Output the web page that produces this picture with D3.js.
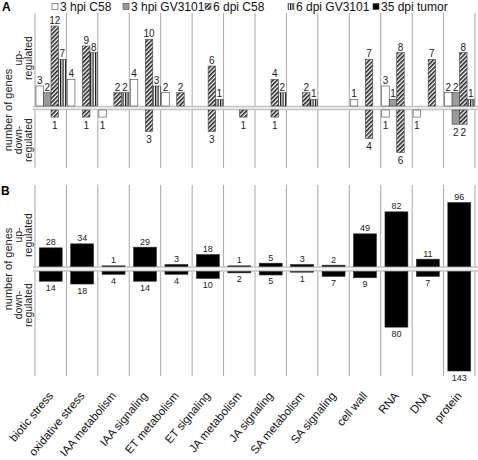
<!DOCTYPE html>
<html><head><meta charset="utf-8">
<script src="https://cdn.jsdelivr.net/npm/d3@7"></script>
<style>body{margin:0;background:#fff}</style>
</head><body><svg id="c" width="478" height="460" font-family="'Liberation Sans', Arial, Helvetica, sans-serif"></svg>
<script>
const categories = ["biotic stress","oxidative stress","IAA metabolism","IAA signaling","ET metabolism","ET signaling","JA metabolism","JA signaling","SA metabolism","SA signaling","cell wall","RNA","DNA","protein"];
const seriesNames = ["3 hpi C58","3 hpi GV3101","6 dpi C58","6 dpi GV3101","35 dpi tumor"];
// Panel A, up-regulated
const upHpiC58   = [3,4,0,4,2,0,0,0,0,0,1,3,0,2];
const upHpiGV    = [2,0,0,0,0,0,0,0,0,0,0,1,0,2];
const upDpiC58   = [12,9,2,10,2,6,0,4,2,0,7,8,7,8];
const upDpiGV    = [7,8,2,3,0,1,0,2,1,0,0,0,0,1];
// Panel A, down-regulated
const downHpiC58 = [0,0,1,0,0,0,0,0,0,0,0,1,1,0];
const downHpiGV  = [0,0,0,0,0,0,0,0,0,0,0,0,0,2];
const downDpiC58 = [1,1,0,3,0,3,1,1,0,0,4,6,0,2];
const downDpiGV  = [0,0,0,0,0,0,0,0,0,0,0,0,0,0];
// Panel B (35 dpi tumor)
const upTumor    = [28,34,1,29,3,18,1,5,3,2,49,82,11,96];
const downTumor  = [14,18,4,14,4,10,2,5,1,7,9,80,7,143];

const FONT = "'Liberation Sans', Arial, Helvetica, sans-serif";
const svg = d3.select("#c");
const defs = svg.append("defs");
const hatch = defs.append("pattern").attr("id","hatch").attr("patternUnits","userSpaceOnUse")
  .attr("width",3).attr("height",3).attr("patternTransform","rotate(45)");
hatch.append("rect").attr("width",3).attr("height",3).attr("fill","#fff");
hatch.append("rect").attr("width",1.6).attr("height",3).attr("fill","#222");
const vert = defs.append("pattern").attr("id","vert").attr("patternUnits","userSpaceOnUse")
  .attr("width",2.5).attr("height",4);
vert.append("rect").attr("width",2.5).attr("height",4).attr("fill","#fff");
vert.append("rect").attr("width",1.2).attr("height",4).attr("fill","#111");

const fills = ["#fff","#9a9a9a","url(#hatch)","url(#vert)","#000"];

const x = d3.scaleBand().domain(categories).range([35,475]);
const xs = d3.scaleBand().domain(seriesNames.slice(0,4)).range([1,31]);

const yUpA = d3.scaleLinear().domain([0,12]).range([106,26]);
const yDnA = d3.scaleLinear().domain([0,6]).range([110,152.6]);
const yUpB = d3.scaleLinear().domain([0,96]).range([266.5,202.5]);
const yDnB = d3.scaleLinear().domain([0,143]).range([271.5,371]);

function txt(sel){ return sel.append("text").attr("font-family",FONT); }

const grid = x.domain().map(d=>x(d)).concat([475]);
const g = svg.append("g");
grid.forEach(v=>{
  g.append("line").attr("x1",v).attr("x2",v).attr("y1",13).attr("y2",168).attr("stroke","#a8a8a8").attr("stroke-width",1);
  g.append("line").attr("x1",v).attr("x2",v).attr("y1",185).attr("y2",376).attr("stroke","#a8a8a8").attr("stroke-width",1);
});
[[yUpA(0),yDnA(0)],[yUpB(0),yDnB(0)]].forEach(([a,b])=>{
  svg.append("rect").attr("x",33).attr("y",a).attr("width",445).attr("height",b-a).attr("fill","#f4f4f4");
  svg.append("line").attr("x1",33).attr("x2",478).attr("y1",a+0.5).attr("y2",a+0.5).attr("stroke","#c4c4c4").attr("stroke-width",1.3);
  svg.append("line").attr("x1",33).attr("x2",478).attr("y1",b-0.5).attr("y2",b-0.5).attr("stroke","#c4c4c4").attr("stroke-width",1.3);
});

const upA = [upHpiC58,upHpiGV,upDpiC58,upDpiGV];
const dnA = [downHpiC58,downHpiGV,downDpiC58,downDpiGV];
const ga = svg.append("g");
seriesNames.slice(0,4).forEach((s,si)=>{
  categories.forEach((c,ci)=>{
    const bx = x(c)+xs(s), bw = xs.bandwidth();
    const u = upA[si][ci], dn = dnA[si][ci];
    if(u>0){
      ga.append("rect").attr("x",bx).attr("y",yUpA(u)).attr("width",bw).attr("height",yUpA(0)-yUpA(u))
        .attr("fill",fills[si]).attr("stroke","#444").attr("stroke-width",0.6);
      txt(ga).attr("x",bx+bw/2).attr("y",yUpA(u)-2).attr("text-anchor","middle")
        .attr("font-size",10).attr("fill","#222").text(u);
    }
    if(dn>0){
      ga.append("rect").attr("x",bx).attr("y",yDnA(0)).attr("width",bw).attr("height",yDnA(dn)-yDnA(0))
        .attr("fill",fills[si]).attr("stroke","#444").attr("stroke-width",0.6);
      txt(ga).attr("x",bx+bw/2).attr("y",yDnA(dn)+11.5).attr("text-anchor","middle")
        .attr("font-size",10).attr("fill","#222").text(dn);
    }
  });
});

const gb = svg.append("g");
const bwB = x.bandwidth()*0.73;
categories.forEach((c,ci)=>{
  const cx = x(c)+x.bandwidth()/2;
  const u = upTumor[ci], dn = downTumor[ci];
  gb.append("rect").attr("x",cx-bwB/2).attr("y",yUpB(u)).attr("width",bwB).attr("height",yUpB(0)-yUpB(u))
    .attr("fill","#000").attr("stroke","#333").attr("stroke-width",0.6);
  txt(gb).attr("x",cx).attr("y",yUpB(u)-2.5).attr("text-anchor","middle").attr("font-size",9).attr("fill","#222").text(u);
  gb.append("rect").attr("x",cx-bwB/2).attr("y",yDnB(0)).attr("width",bwB).attr("height",yDnB(dn)-yDnB(0))
    .attr("fill","#000").attr("stroke","#333").attr("stroke-width",0.6);
  txt(gb).attr("x",cx).attr("y",yDnB(dn)+9.5).attr("text-anchor","middle").attr("font-size",9).attr("fill","#222").text(dn);
});

// x labels, rotated -50 degrees
categories.forEach(c=>{
  const px = x(c)+x.bandwidth()/2+3, py = 396;
  const gg = svg.append("g").attr("transform",`translate(${px},${py}) rotate(-50)`);
  txt(gg).attr("x",0).attr("y",0).attr("text-anchor","end")
    .attr("font-size",11.5).attr("fill","#111").text(c);
});

txt(svg).attr("x",2).attr("y",10.5).attr("font-size",12).attr("font-weight","bold").text("A");
txt(svg).attr("x",1).attr("y",195).attr("font-size",12).attr("font-weight","bold").text("B");

function ylab(cyNum, cyUp, cyDn){
  txt(svg).attr("x",-cyNum).attr("y",12).attr("transform","rotate(-90)").attr("text-anchor","middle")
    .attr("font-size",11).attr("fill","#222").text("number of genes");
  [[cyUp,"up-"],[cyDn,"down-"]].forEach(([cy,t])=>{
    txt(svg).attr("x",-cy).attr("y",22).attr("transform","rotate(-90)").attr("text-anchor","middle")
      .attr("font-size",10.5).attr("fill","#222").text(t);
    txt(svg).attr("x",-cy).attr("y",32).attr("transform","rotate(-90)").attr("text-anchor","middle")
      .attr("font-size",10.5).attr("fill","#222").text("regulated");
  });
}
ylab(110,58,140);
ylab(269,235,305);

const legX = [52,123,205,288,373];
seriesNames.forEach((s,i)=>{
  svg.append("rect").attr("x",legX[i]).attr("y",3.5).attr("width",6).attr("height",6)
    .attr("fill",fills[i]).attr("stroke","#444").attr("stroke-width",0.6);
  txt(svg).attr("x",legX[i]+8).attr("y",10.5).attr("font-size",12).attr("fill","#111").text(s);
});
</script></body></html>
